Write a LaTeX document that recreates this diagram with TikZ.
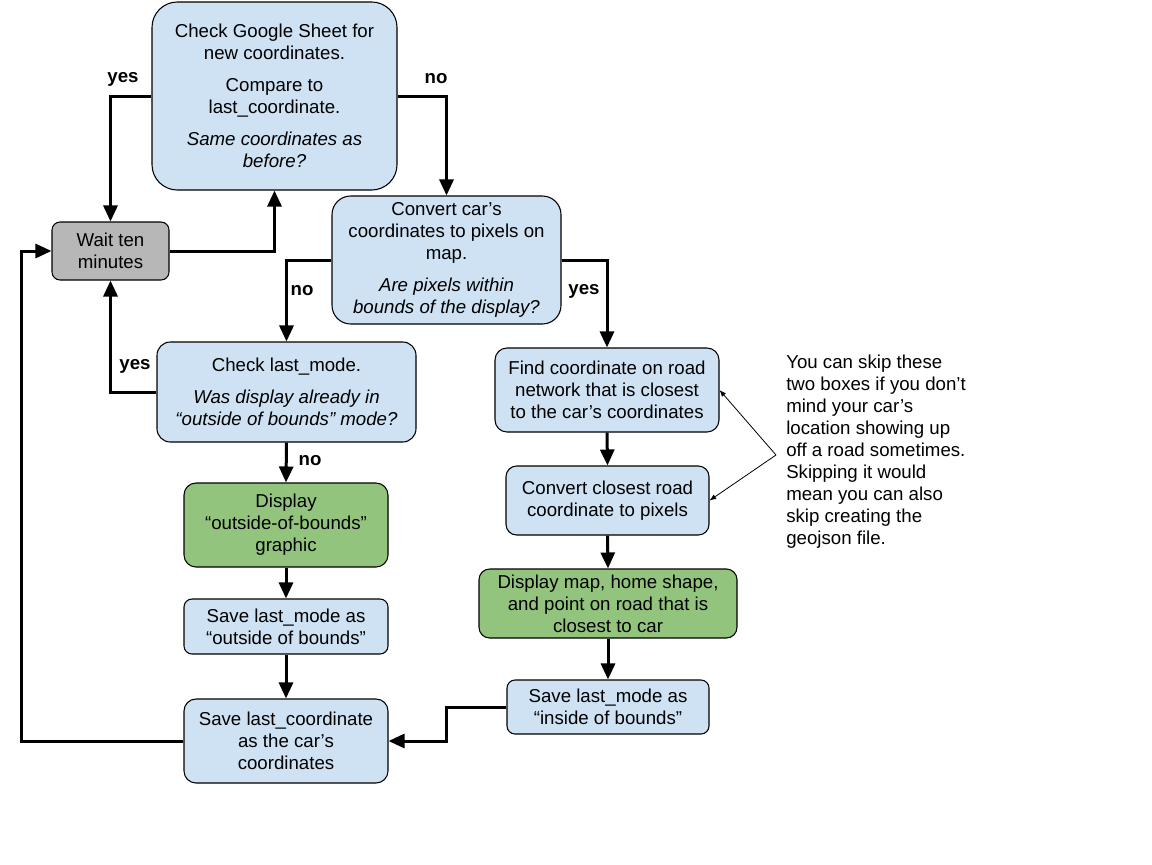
\documentclass[tikz,border=0pt]{standalone}
\usepackage{fontspec}
\setmainfont{Liberation Sans}
\usetikzlibrary{arrows.meta,positioning,calc}
\definecolor{fblue}{HTML}{CFE2F3}
\definecolor{fgreen}{HTML}{93C47D}
\definecolor{fgray}{HTML}{B7B7B7}
\tikzset{
  box/.style     = {draw, line width=0.8pt, fill=fblue, align=center, inner sep=0pt,
                    font=\fontsize{14}{16.5}\selectfont},
  greenbox/.style = {box, fill=fgreen},
  graybox/.style  = {box, fill=fgray},
  sig/.style     = {-{Triangle[length=12pt,width=10.5pt]}, line width=2.25pt},
  hint/.style    = {-{Latex[length=5pt,width=4pt]}, line width=0.6pt},
  lab/.style     = {font=\fontsize{14}{16.5}\selectfont\bfseries},
}

\begin{document}
\begin{tikzpicture}[x=0.75pt,y=-0.75pt]
\useasboundingbox (0,0) rectangle (1152,864);
% left branch
\node[box,rounded corners=19pt,minimum width=183.75pt,minimum height=141pt] (check) at (274.5,96)
  {Check Google Sheet for\\new coordinates.\\[7.5pt]Compare to\\last\_coordinate.\\[7.5pt]
   \textit{Same coordinates as}\\\textit{before?}};
\node[graybox,rounded corners=6pt,minimum width=87.75pt,minimum height=43.5pt] (wait) at (110.5,251)
  {Wait ten\\minutes};
\node[box,rounded corners=14pt,minimum width=171.75pt,minimum height=96pt] (convert) at (446.5,260)
  {Convert car’s\\coordinates to pixels on\\map.\\[7.5pt]\textit{Are pixels within}\\\textit{bounds of the display?}};
\node[box,rounded corners=10pt,minimum width=194.25pt,minimum height=75pt] (lastmode) at (286.5,392)
  {Check last\_mode.\\[7.5pt]\textit{Was display already in}\\\textit{“outside of bounds” mode?}};
\node[greenbox,rounded corners=9pt,minimum width=153pt,minimum height=63pt] (outside) at (286,525)
  {Display\\“outside-of-bounds”\\graphic};
\node[box,rounded corners=6pt,minimum width=153pt,minimum height=41.25pt] (saveout) at (286,626.5)
  {Save last\_mode as\\“outside of bounds”};
\node[box,rounded corners=9pt,minimum width=153pt,minimum height=63pt] (savecoord) at (286,741)
  {Save last\_coordinate\\as the car’s\\coordinates};
% right branch
\node[box,rounded corners=9pt,minimum width=168pt,minimum height=63pt] (findroad) at (607,390)
  {Find coordinate on road\\network that is closest\\to the car’s coordinates};
\node[box,rounded corners=8pt,minimum width=152.25pt,minimum height=51.75pt] (convroad) at (607.5,500.5)
  {Convert closest road\\coordinate to pixels};
\node[greenbox,rounded corners=8pt,minimum width=193.5pt,minimum height=51.75pt] (showmap) at (608,603.5)
  {Display map, home shape,\\and point on road that is\\closest to car};
\node[box,rounded corners=6pt,minimum width=151.5pt,minimum height=40.5pt] (savein) at (608,707)
  {Save last\_mode as\\“inside of bounds”};
% side note
\node[align=left,anchor=west,inner sep=0pt,font=\fontsize{14}{16.5}\selectfont] (note) at (786,452)
  {You can skip these\\two boxes if you don’t\\mind your car’s\\location showing up\\off a road sometimes.\\
   Skipping it would\\mean you can also\\skip creating the\\geojson file.};
\coordinate (notetip) at (776,455);

% connectors
\draw[sig] (check.west) -| (wait.north);
\draw[sig] (check.east) -| (convert.north);
\draw[sig] (wait.east) -| (check.south);
\draw[sig] (convert.west) -| (lastmode.north);
\draw[sig] (convert.east) -| (findroad.north);
\draw[sig] (lastmode.west) -| (wait.south);
\draw[sig] (lastmode.south) -- (outside.north);
\draw[sig] (outside.south) -- (saveout.north);
\draw[sig] (saveout.south) -- (savecoord.north);
\draw[sig] (findroad.south) -- (convroad.north);
\draw[sig] (convroad.south) -- (showmap.north);
\draw[sig] (showmap.south) -- (savein.north);
\draw[sig] (savein.west) -- ++(-60,0) |- (savecoord.east);
\draw[sig] (savecoord.west) -- ++(-162,0) |- (wait.west);
\draw[hint] (notetip) -- (findroad.east);
\draw[hint] (notetip) -- (convroad.east);

% branch labels
\node[lab] (yesA) at (123,79) {yes};
\node[lab] (noA) at (436,79) {no};
\node[lab] (noB) at (302,291) {no};
\node[lab] (yesB) at (584,291) {yes};
\node[lab] (yesC) at (135,366) {yes};
\node[lab] (noC) at (310,461) {no};
\end{tikzpicture}
\end{document}
